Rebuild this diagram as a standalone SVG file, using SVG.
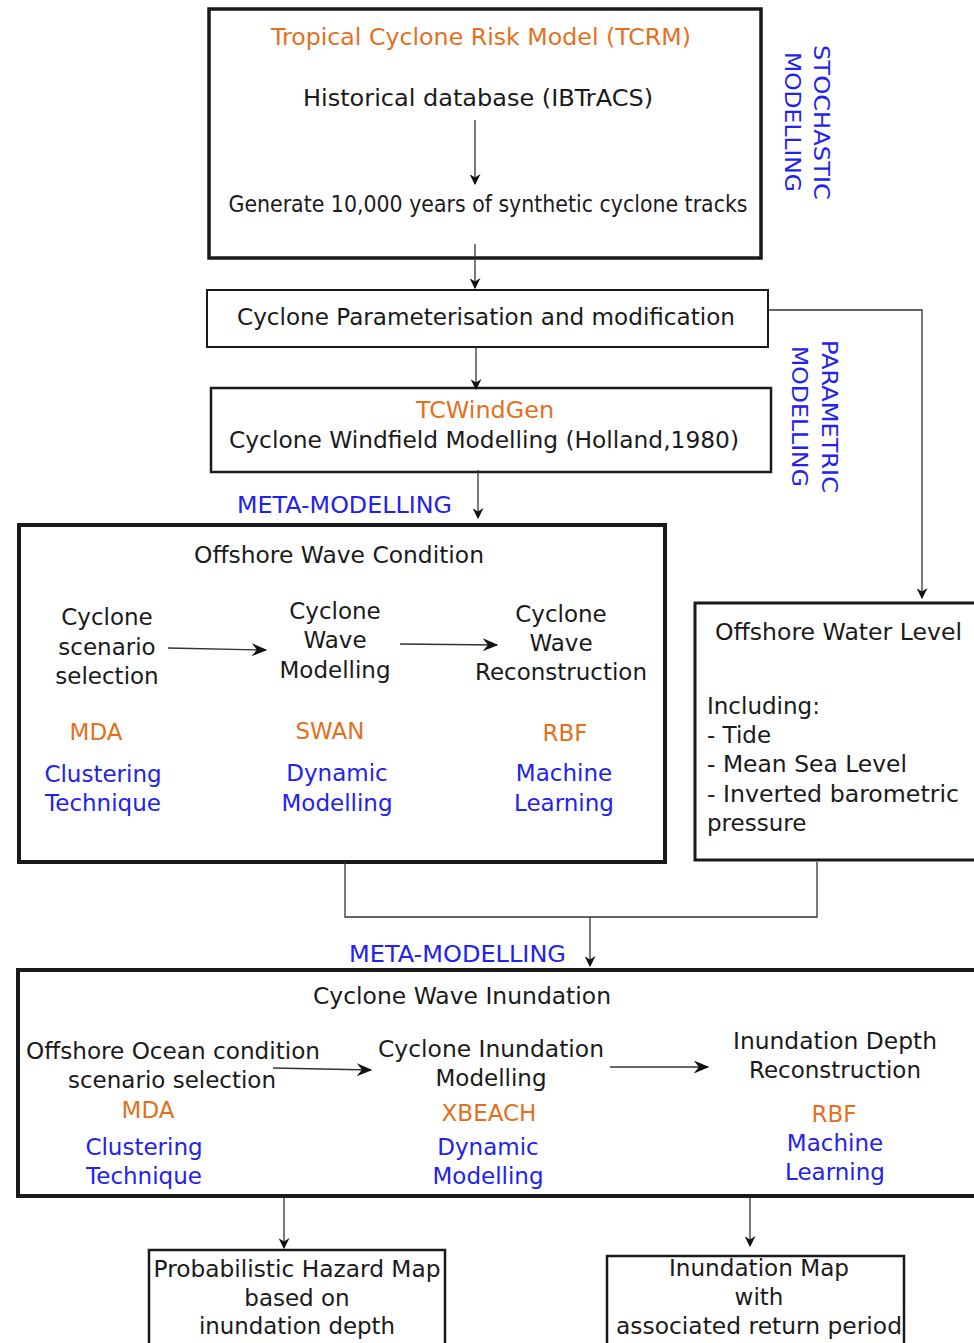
<svg xmlns="http://www.w3.org/2000/svg" width="974" height="1343" viewBox="0 0 974 1343">
<defs>
<style>
text{font-family:"DejaVu Sans","Verdana",sans-serif;font-size:23px;fill:#1a1a1a}
.c{text-anchor:middle}
.o{fill:#E4701E}
.b{fill:#2222EE}
.box{fill:#fff;stroke:#1a1a1a}
.ln{fill:none;stroke:#333;stroke-width:1.3}
</style>
<marker id="ah" viewBox="0 0 10 10" refX="9" refY="5" markerWidth="11" markerHeight="11" markerUnits="userSpaceOnUse" orient="auto">
<path d="M0,0 L10,5 L0,10 L3,5 Z" fill="#111"/>
</marker>
<marker id="ah2" viewBox="0 0 12 10" refX="11" refY="5" markerWidth="17" markerHeight="13" markerUnits="userSpaceOnUse" orient="auto">
<path d="M0,0 L12,5 L0,10 L4,5 Z" fill="#111"/>
</marker>
</defs>
<rect width="974" height="1343" fill="#fff"/>

<g id="tcrm">
<rect class="box" x="209" y="9" width="552" height="249" stroke-width="3.5"/>
<text class="c o" x="481" y="45" textLength="420" lengthAdjust="spacingAndGlyphs">Tropical Cyclone Risk Model (TCRM)</text>
<text class="c" x="478" y="106" textLength="350" lengthAdjust="spacingAndGlyphs">Historical database (IBTrACS)</text>
<text class="c" x="488" y="212" textLength="519" lengthAdjust="spacingAndGlyphs">Generate 10,000 years of synthetic cyclone tracks</text>
</g>

<g id="stochastic-label">
<text class="b" transform="translate(814,45) rotate(90)" textLength="155" lengthAdjust="spacingAndGlyphs" style="font-size:22px">STOCHASTIC</text>
<text class="b" transform="translate(785,52) rotate(90)" textLength="140" lengthAdjust="spacingAndGlyphs" style="font-size:22px">MODELLING</text>
</g>

<g id="param">
<rect class="box" x="207" y="290" width="561" height="57" stroke-width="2"/>
<text class="c" x="486" y="325" textLength="498" lengthAdjust="spacingAndGlyphs">Cyclone Parameterisation and modification</text>
</g>

<g id="parametric-label">
<text class="b" transform="translate(822,340) rotate(90)" textLength="153" lengthAdjust="spacingAndGlyphs" style="font-size:22px">PARAMETRIC</text>
<text class="b" transform="translate(792,346) rotate(90)" textLength="141" lengthAdjust="spacingAndGlyphs" style="font-size:22px">MODELLING</text>
</g>

<g id="tcwindgen">
<rect class="box" x="211" y="388" width="560" height="84" stroke-width="2.5"/>
<text class="c o" x="485" y="418" textLength="138" lengthAdjust="spacingAndGlyphs">TCWindGen</text>
<text class="c" x="484" y="448" textLength="510" lengthAdjust="spacingAndGlyphs">Cyclone Windfield Modelling (Holland,1980)</text>
</g>

<g id="meta1">
<text class="b" x="237" y="513" textLength="215" lengthAdjust="spacingAndGlyphs">META-MODELLING</text>
</g>

<g id="offshore-wave">
<rect class="box" x="19" y="525" width="646" height="337" stroke-width="4"/>
<text class="c" x="339" y="563" textLength="290" lengthAdjust="spacingAndGlyphs">Offshore Wave Condition</text>
<text class="c" x="107" y="625">Cyclone</text>
<text class="c" x="107" y="655">scenario</text>
<text class="c" x="107" y="684">selection</text>
<text class="c" x="335" y="619">Cyclone</text>
<text class="c" x="335" y="648">Wave</text>
<text class="c" x="335" y="678">Modelling</text>
<text class="c" x="561" y="622">Cyclone</text>
<text class="c" x="561" y="651">Wave</text>
<text class="c" x="561" y="680" textLength="172" lengthAdjust="spacingAndGlyphs">Reconstruction</text>
<text class="c o" x="96" y="740">MDA</text>
<text class="c o" x="330" y="739">SWAN</text>
<text class="c o" x="565" y="741">RBF</text>
<text class="c b" x="103" y="782">Clustering</text>
<text class="c b" x="103" y="811">Technique</text>
<text class="c b" x="337" y="781">Dynamic</text>
<text class="c b" x="337" y="811">Modelling</text>
<text class="c b" x="564" y="781">Machine</text>
<text class="c b" x="564" y="811">Learning</text>
</g>

<g id="offshore-water">
<rect class="box" x="695" y="603" width="290" height="257" stroke-width="3"/>
<text x="715" y="640" textLength="247" lengthAdjust="spacingAndGlyphs">Offshore Water Level</text>
<text x="707" y="714">Including:</text>
<text x="707" y="743">- Tide</text>
<text x="707" y="772" textLength="200" lengthAdjust="spacingAndGlyphs">- Mean Sea Level</text>
<text x="707" y="802" textLength="252" lengthAdjust="spacingAndGlyphs">- Inverted barometric</text>
<text x="707" y="831">pressure</text>
</g>

<g id="meta2">
<text class="b" x="349" y="962" textLength="217" lengthAdjust="spacingAndGlyphs">META-MODELLING</text>
</g>

<g id="inundation">
<rect class="box" x="18" y="970" width="970" height="226" stroke-width="4"/>
<text class="c" x="462" y="1004" textLength="298" lengthAdjust="spacingAndGlyphs">Cyclone Wave Inundation</text>
<text class="c" x="173" y="1059" textLength="294" lengthAdjust="spacingAndGlyphs">Offshore Ocean condition</text>
<text class="c" x="172" y="1088" textLength="208" lengthAdjust="spacingAndGlyphs">scenario selection</text>
<text class="c" x="491" y="1057" textLength="226" lengthAdjust="spacingAndGlyphs">Cyclone Inundation</text>
<text class="c" x="491" y="1086">Modelling</text>
<text class="c" x="835" y="1049" textLength="204" lengthAdjust="spacingAndGlyphs">Inundation Depth</text>
<text class="c" x="835" y="1078" textLength="172" lengthAdjust="spacingAndGlyphs">Reconstruction</text>
<text class="c o" x="148" y="1118">MDA</text>
<text class="c o" x="489" y="1121">XBEACH</text>
<text class="c o" x="834" y="1122">RBF</text>
<text class="c b" x="144" y="1155">Clustering</text>
<text class="c b" x="144" y="1184">Technique</text>
<text class="c b" x="488" y="1155">Dynamic</text>
<text class="c b" x="488" y="1184">Modelling</text>
<text class="c b" x="835" y="1151">Machine</text>
<text class="c b" x="835" y="1180">Learning</text>
</g>

<g id="hazard-map">
<rect class="box" x="149" y="1250" width="296" height="100" stroke-width="2.5"/>
<text class="c" x="297" y="1277" textLength="287" lengthAdjust="spacingAndGlyphs">Probabilistic Hazard Map</text>
<text class="c" x="297" y="1306">based on</text>
<text class="c" x="297" y="1334" textLength="196" lengthAdjust="spacingAndGlyphs">inundation depth</text>
</g>

<g id="inundation-map">
<rect class="box" x="607" y="1256" width="297" height="100" stroke-width="2.5"/>
<text class="c" x="759" y="1276" textLength="180" lengthAdjust="spacingAndGlyphs">Inundation Map</text>
<text class="c" x="759" y="1305">with</text>
<text class="c" x="759" y="1334" textLength="286" lengthAdjust="spacingAndGlyphs">associated return period</text>
</g>

<g id="connectors">
<line class="ln" x1="475" y1="120" x2="475" y2="184" marker-end="url(#ah)"/>
<line class="ln" x1="475" y1="244" x2="475" y2="288" marker-end="url(#ah)"/>
<polyline class="ln" points="768,310 922,310 922,598" marker-end="url(#ah)"/>
<line class="ln" x1="476" y1="347" x2="476" y2="389" marker-end="url(#ah)"/>
<line class="ln" x1="478" y1="470" x2="478" y2="518" marker-end="url(#ah)"/>
<line class="ln" x1="168" y1="648" x2="266" y2="650" marker-end="url(#ah2)"/>
<line class="ln" x1="400" y1="644" x2="497" y2="645" marker-end="url(#ah2)"/>
<polyline class="ln" points="345,862 345,917 817,917 817,862"/>
<line class="ln" x1="590" y1="917" x2="590" y2="966" marker-end="url(#ah)"/>
<line class="ln" x1="273" y1="1068" x2="371" y2="1070" marker-end="url(#ah2)"/>
<line class="ln" x1="610" y1="1067" x2="708" y2="1067" marker-end="url(#ah2)"/>
<line class="ln" x1="284" y1="1198" x2="284" y2="1248" marker-end="url(#ah)"/>
<line class="ln" x1="750" y1="1198" x2="750" y2="1246" marker-end="url(#ah)"/>
</g>
</svg>
